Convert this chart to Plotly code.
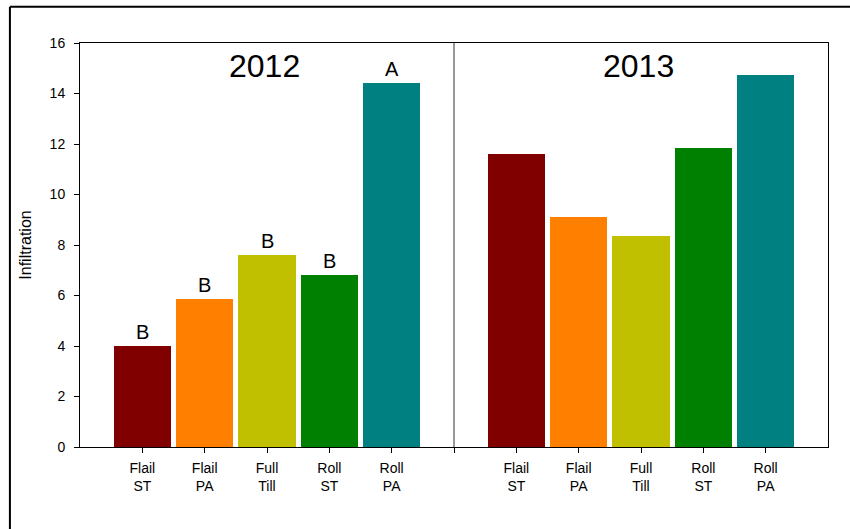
import plotly.graph_objects as go

# Treatment categories and mean infiltration per year
categories = ["Flail<br>ST", "Flail<br>PA", "Full<br>Till", "Roll<br>ST", "Roll<br>PA"]
values_2012 = [4.02, 5.85, 7.60, 6.80, 14.40]
values_2013 = [11.60, 9.10, 8.37, 11.83, 14.75]
letters_2012 = ["B", "B", "B", "B", "A"]
years = ["2012", "2013"]
colors = ["#800000", "#FF8000", "#C0C000", "#008000", "#008080"]
y_ticks = [0, 2, 4, 6, 8, 10, 12, 14, 16]

n = len(categories)
x_2012 = list(range(n))                 # 0..4
divider = n                             # 5
x_2013 = [divider + 1 + i for i in range(n)]  # 6..10

FONT = "Liberation Sans, Arial, sans-serif"

fig = go.Figure()
fig.add_trace(go.Bar(x=x_2012, y=values_2012, marker=dict(color=colors, line=dict(width=0)),
                     width=0.92, showlegend=False, hoverinfo="y"))
fig.add_trace(go.Bar(x=x_2013, y=values_2013, marker=dict(color=colors, line=dict(width=0)),
                     width=0.92, showlegend=False, hoverinfo="y"))

annotations = []
# significance letters above the 2012 bars
for xv, yv, lt in zip(x_2012, values_2012, letters_2012):
    annotations.append(dict(x=xv, y=yv, text=lt, showarrow=False, xref="x", yref="y",
                            yanchor="bottom", yshift=1,
                            font=dict(family=FONT, size=20, color="black")))
# year headings for each panel
for xv, yr in zip([x_2012[2], x_2013[2]], years):
    annotations.append(dict(x=xv, y=15.1, text=yr, showarrow=False, xref="x", yref="y",
                            yanchor="middle", xshift=-3,
                            font=dict(family=FONT, size=32, color="black")))

shapes = [
    # panel divider
    dict(type="line", xref="x", yref="y", x0=divider, x1=divider, y0=0, y1=16,
         line=dict(color="#333333", width=1)),
    # outer frame (left and top edges)
    dict(type="line", xref="paper", yref="paper", x0=-0.0937, x1=-0.0937, y0=-0.3, y1=1.09,
         line=dict(color="black", width=2)),
    dict(type="line", xref="paper", yref="paper", x0=-0.0937, x1=1.05, y0=1.09, y1=1.09,
         line=dict(color="black", width=2)),
]

fig.update_layout(
    width=850, height=529,
    margin=dict(l=80, r=22, t=43, b=82),
    paper_bgcolor="white", plot_bgcolor="white",
    bargap=0,
    font=dict(family=FONT, size=14, color="black"),
    annotations=annotations,
    shapes=shapes,
    xaxis=dict(
        range=[-1, 2 * n + 1],
        tickmode="array",
        tickvals=x_2012 + [divider] + x_2013,
        ticktext=categories + [""] + categories,
        ticks="outside", ticklen=5, tickcolor="black", tickwidth=1,
        ticklabelstandoff=3,
        showline=True, linecolor="black", linewidth=1, mirror=True,
        showgrid=False, zeroline=False,
        tickfont=dict(family=FONT, size=14),
    ),
    yaxis=dict(
        range=[0, 16],
        tickvals=y_ticks,
        ticks="outside", ticklen=5, tickcolor="black", tickwidth=1,
        ticklabelstandoff=6,
        showline=True, linecolor="black", linewidth=1, mirror=True,
        showgrid=False, zeroline=False,
        title=dict(text="Infiltration", font=dict(family=FONT, size=16), standoff=14),
        tickfont=dict(family=FONT, size=14),
    ),
)

fig.write_html("out.html")
